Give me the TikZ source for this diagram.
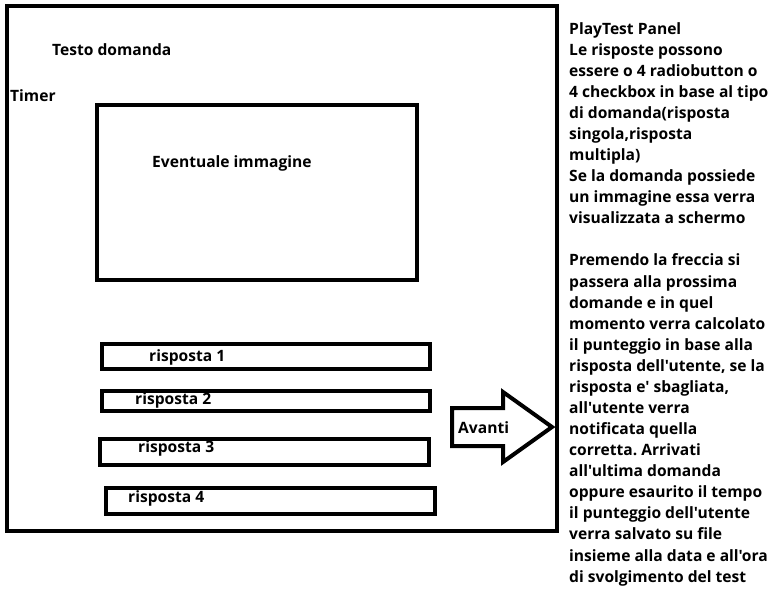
\documentclass[tikz,border=0pt]{standalone}
\usepackage{fontspec}
\newfontfamily\uifont{Open Sans}
\usepackage{tikz}
\frenchspacing

\begin{document}
\begin{tikzpicture}[x=1pt,y=-1pt]
        \tikzset{frame/.style = {draw,line width=4pt},
                 label/.style = {font=\uifont\bfseries\fontsize{15.6}{21.08}\selectfont,inner sep=0pt,anchor=west}}
        \useasboundingbox (0,0) rectangle (769,597);
        % panel
        \draw[frame] (6.5,6) rectangle (557,531);
        \node[label] (domanda) at (52,50) {Testo domanda};
        \node[label] (timer) at (10,96) {Timer};
        \draw[frame] (97,105) rectangle (417,280);
        \node[label] (immagine) at (152,163) {Eventuale immagine};
        % risposte
        \draw[frame] (102,344) rectangle (430,369);
        \node[label] (r1) at (149,357) {risposta 1};
        \draw[frame] (102,391) rectangle (430,411);
        \node[label] (r2) at (135,400) {risposta 2};
        \draw[frame] (100,439) rectangle (429,465);
        \node[label] (r3) at (138,448) {risposta 3};
        \draw[frame] (106,488) rectangle (435,514);
        \node[label] (r4) at (128,498) {risposta 4};
        % freccia
        \draw[frame,line width=4pt] (452,408) -- (503,408) -- (503,392) -- (552,427)
                -- (503,462) -- (503,446) -- (452,446) -- cycle;
        \node[label] (avanti) at (458,428) {Avanti};
        % note
        \node[label,anchor=north west,align=left] (note) at (569,22) {PlayTest Panel\\
        Le risposte possono\\
        essere o 4 radiobutton o\\
        4 checkbox in base al tipo\\
        di domanda(risposta\\
        singola,risposta\\
        multipla)\\
        Se la domanda possiede\\
        un immagine essa verra\\
        visualizzata a schermo\\[21.08pt]
        Premendo la freccia si\\
        passera alla prossima\\
        domande e in quel\\
        momento verra calcolato\\
        il punteggio in base alla\\
        risposta dell'utente, se la\\
        risposta e' sbagliata,\\
        all'utente verra\\
        notificata quella\\
        corretta. Arrivati\\
        all'ultima domanda\\
        oppure esaurito il tempo\\
        il punteggio dell'utente\\
        verra salvato su file\\
        insieme alla data e all'ora\\
        di svolgimento del test};
\end{tikzpicture}
\end{document}
